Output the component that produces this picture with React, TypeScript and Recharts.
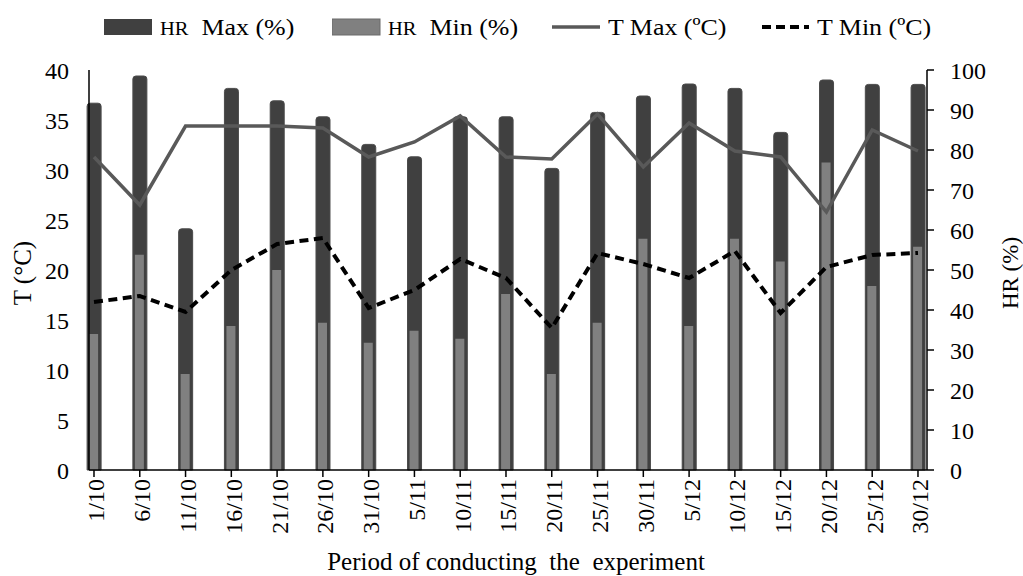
import React from 'react';
import { ComposedChart, Bar, Line, XAxis, YAxis } from 'recharts';

const dates = ['1/10', '6/10', '11/10', '16/10', '21/10', '26/10', '31/10', '5/11', '10/11', '15/11', '20/11', '25/11', '30/11', '5/12', '10/12', '15/12', '20/12', '25/12', '30/12'];
const hrMax = [91.7, 98.5, 60.3, 95.4, 92.3, 88.3, 81.4, 78.3, 88.3, 88.3, 75.4, 89.4, 93.5, 96.5, 95.4, 84.4, 97.5, 96.4, 96.4];
const hrMin = [34, 53.8, 24, 36, 50, 36.8, 31.8, 34.8, 32.8, 44, 24, 36.8, 57.8, 36, 57.8, 52.1, 76.9, 46, 55.8];
const tMax = [31.3, 26.5, 34.4, 34.4, 34.4, 34.2, 31.3, 32.8, 35.4, 31.3, 31.1, 35.6, 30.3, 34.7, 31.9, 31.3, 25.8, 34.0, 31.9];
const tMin = [16.8, 17.4, 15.8, 20.0, 22.6, 23.2, 16.2, 18.0, 21.1, 19.2, 14.2, 21.7, 20.6, 19.2, 21.9, 15.7, 20.3, 21.5, 21.7];
const tTicks = [0, 5, 10, 15, 20, 25, 30, 35, 40];
const hrTicks = [0, 10, 20, 30, 40, 50, 60, 70, 80, 90, 100];

const data = dates.map((d, i) => ({
    i,
    label: d,
    hrMax: hrMax[i],
    hrMin: hrMin[i],
    tMax: tMax[i],
    tMin: tMin[i]
}));

const FONT = '"Liberation Serif", "Times New Roman", serif';
const X_DOMAIN: [number, number] = [-0.109, 18.197];

const DateTick = ({ x, y, payload }: any) => (
    <g transform={`translate(${x + 2},${y})`}>
        <text
            transform="rotate(-90)"
            textAnchor="end"
            dy="0.35em"
            fontSize={24}
            fontFamily={FONT}
            fill="#000"
        >
            {dates[payload.value]}
        </text>
    </g>
);

const LegendItem = ({ swatch, label, left }: { swatch: React.ReactNode; label: string; left: number }) => (
    <div style={{ position: 'absolute', left, top: 13, display: 'flex', alignItems: 'center' }}>
        <svg width={50} height={28}>{swatch}</svg>
        <span
            style={{
                marginLeft: 6,
                fontSize: 24,
                fontFamily: FONT,
                whiteSpace: 'pre',
                color: '#000',
                display: 'inline-block',
                transform: 'scaleX(1.08)',
                transformOrigin: 'left center'
            }}
        >
            {label.startsWith('HR') ? (
                <>
                    <span style={{ fontSize: 19 }}>HR</span>
                    {label.slice(2)}
                </>
            ) : label}
        </span>
    </div>
);

const App = () => {
    return (
        <div style={{ position: 'absolute', left: 0, top: 0, width: 1023, height: 576, background: '#fff' }}>
            <LegendItem left={104} label="HR  Max (%)" swatch={<rect x={0} y={6} width={48} height={16} fill="#404040" />} />
            <LegendItem left={332} label="HR  Min (%)" swatch={<rect x={0} y={6} width={48} height={16} fill="#808080" stroke="#6a6a6a" />} />
            <LegendItem left={552} label="T Max (ºC)" swatch={<line x1={0} x2={48} y1={14} y2={14} stroke="#595959" strokeWidth={3.5} />} />
            <LegendItem left={761} label="T Min (ºC)" swatch={<line x1={1} x2={48} y1={14} y2={14} stroke="#000" strokeWidth={4} strokeDasharray="9 5" />} />

            <ComposedChart
                width={1023}
                height={576}
                data={data}
                margin={{ top: 70, right: 0, bottom: 46, left: 0 }}
            >
                <XAxis
                    xAxisId="main"
                    dataKey="i"
                    type="number"
                    domain={X_DOMAIN}
                    ticks={dates.map((_, i) => i)}
                    allowDecimals={false}
                    height={60}
                    axisLine={{ stroke: '#000', strokeWidth: 1.5 }}
                    tickLine={{ stroke: '#000', strokeWidth: 1.5 }}
                    tickSize={7}
                    tickMargin={2}
                    tick={<DateTick />}
                    interval={0}
                    label={() => (
                        <text
                            x={516}
                            y={570}
                            textAnchor="middle"
                            fontSize={25}
                            fontFamily={FONT}
                            fill="#000"
                            style={{ whiteSpace: 'pre' }}
                        >
                            Period of conducting  the  experiment
                        </text>
                    )}
                />
                <XAxis xAxisId="inner" dataKey="i" type="number" domain={X_DOMAIN} height={0} hide />

                <YAxis
                    yAxisId="t"
                    orientation="left"
                    width={89}
                    domain={[0, 40]}
                    ticks={tTicks}
                    axisLine={{ stroke: '#000', strokeWidth: 1.5 }}
                    tickLine={false}
                    tickSize={6}
                    tickMargin={14}
                    tick={{ fill: '#000', fontSize: 24, fontFamily: FONT }}
                    label={() => (
                        <text
                            x={22}
                            y={273}
                            transform="rotate(-90 22 273)"
                            textAnchor="middle"
                            dy="0.35em"
                            fontSize={25}
                            fontFamily={FONT}
                            fill="#000"
                        >
                            T (°C)
                        </text>
                    )}
                />
                <YAxis
                    yAxisId="hr"
                    orientation="right"
                    width={96}
                    domain={[0, 100]}
                    ticks={hrTicks}
                    axisLine={{ stroke: '#000', strokeWidth: 1.5 }}
                    tickLine={{ stroke: '#000', strokeWidth: 1.5 }}
                    tickSize={7}
                    tickMargin={16}
                    tick={{ fill: '#000', fontSize: 24, fontFamily: FONT }}
                    label={() => (
                        <text
                            x={1010}
                            y={273}
                            transform="rotate(-90 1010 273)"
                            textAnchor="middle"
                            dy="0.35em"
                            fontSize={23}
                            fontFamily={FONT}
                            fill="#000"
                        >
                            HR  (%)
                        </text>
                    )}
                />

                {/* dark max bar behind, narrower light min bar drawn over it */}
                <Bar
                    xAxisId="main"
                    yAxisId="hr"
                    dataKey="hrMax"
                    barSize={14}
                    fill="#404040"
                    stroke="#4a4a4a"
                    radius={[3, 3, 0, 0]}
                    isAnimationActive={false}
                />
                <Bar
                    xAxisId="inner"
                    yAxisId="hr"
                    dataKey="hrMin"
                    barSize={9}
                    fill="#808080"
                    isAnimationActive={false}
                />

                <Line
                    xAxisId="main"
                    yAxisId="t"
                    type="linear"
                    dataKey="tMax"
                    stroke="#595959"
                    strokeWidth={3.5}
                    dot={false}
                    isAnimationActive={false}
                />
                <Line
                    xAxisId="main"
                    yAxisId="t"
                    type="linear"
                    dataKey="tMin"
                    stroke="#000"
                    strokeWidth={4}
                    strokeDasharray="9 5.5"
                    dot={false}
                    isAnimationActive={false}
                />
            </ComposedChart>
        </div>
    );
};

export default App;
